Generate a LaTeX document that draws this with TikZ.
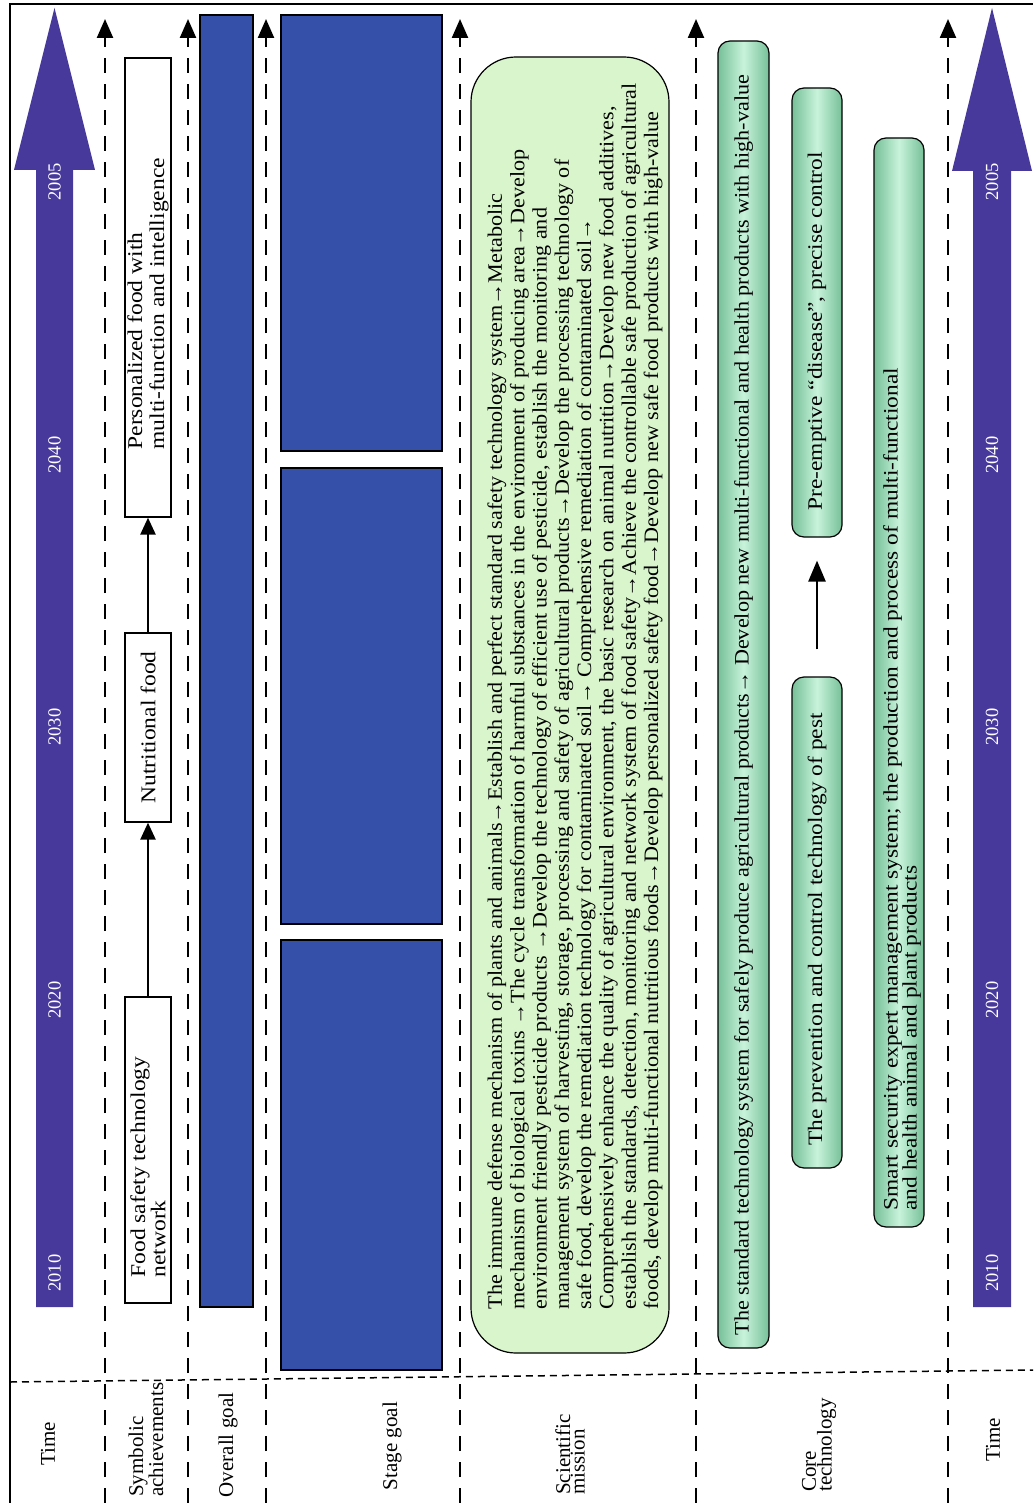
\documentclass[tikz,border=0pt]{standalone}
\usepackage{fontspec}
\setmainfont{Liberation Serif}
\newfontfamily\wideA[FakeStretch=1.08]{Liberation Serif}
\newfontfamily\wideB[FakeStretch=1.14]{Liberation Serif}
\newfontfamily\wideC[FakeStretch=1.12]{Liberation Serif}
\usetikzlibrary{arrows.meta}
\definecolor{tarrow}{RGB}{71,57,155}
\definecolor{goalblue}{RGB}{53,80,168}
\definecolor{missionfill}{RGB}{217,245,204}
\definecolor{cylEdge}{RGB}{118,192,152}
\definecolor{cylMid}{RGB}{200,243,219}
\begin{document}
\begin{tikzpicture}[x=1pt,y=-1pt,
  rtxt/.style={rotate=90, align=left, inner sep=0pt, font=\wideC\fontsize{21}{22}\selectfont},
  hdr/.style={rotate=90, align=left, inner sep=0pt, font=\fontsize{21}{14.5}\selectfont},
  yr/.style={rotate=90, inner sep=0pt, text=white, font=\fontsize{18.5}{20}\selectfont},
  sepline/.style={line width=2.4pt, dash pattern=on 15pt off 11pt, -{Triangle[length=19pt,width=16pt]}},
  hdash/.style={line width=1.5pt, dash pattern=on 7pt off 5pt},
  sbox/.style={draw=black, line width=1.3pt, fill=white, inner sep=0pt, minimum width=46pt},
  goal/.style={draw=black, line width=1.5pt, fill=goalblue, inner sep=0pt},
  mbox/.style={draw=black, line width=1.2pt, fill=missionfill, rounded corners=45pt, inner sep=0pt},
  cyl/.style={draw=black, line width=1.2pt, rounded corners=12pt, left color=cylEdge, right color=cylEdge, middle color=cylMid, inner sep=0pt},
  sarrow/.style={line width=2.5pt, -{Triangle[length=17pt,width=15pt]}},
  carrow/.style={line width=2.6pt, -{Triangle[length=21pt,width=17pt]}}
]
\useasboundingbox (0,0) rectangle (1033,1503);

% frame
\draw[line width=1.5pt] (10,1503) -- (10,4) -- (1033,4);

% header separator
\coordinate (hl) at (10,1382);
\coordinate (hr) at (1033,1370);
\draw[hdash] (hl) -- (hr);

% column separators
\foreach \i/\xx in {1/105,2/188,3/266,4/460,5/696,6/948}{
  \coordinate (sb\i) at (\xx,1503);
  \coordinate (st\i) at (\xx,19);
  \draw[sepline] (sb\i) -- (st\i);
}

% time arrows
\fill[tarrow] (36,1307) -- (36,170) -- (14,170) -- (54.5,8) -- (95,170) -- (73,170) -- (73,1307) -- cycle;
\fill[tarrow] (973,1307) -- (973,171) -- (952,171) -- (992,8) -- (1032,171) -- (1011,171) -- (1011,1307) -- cycle;
\foreach \n/\yy in {2005/182,2040/455,2030/727,2020/1000,2010/1273}{
  \node[yr] (yl\n) at (54.5,\yy) {\n};
  \node[yr] (yr\n) at (992,\yy) {\n};
}

% symbolic achievements
\node[sbox, minimum height=459pt] (pers) at (148,287.5) {};
\node[sbox, minimum height=189pt] (nutr) at (148,727.5) {};
\node[sbox, minimum height=306pt] (fsn) at (148,1150) {};
\node[rtxt, anchor=west] (perst) at ([yshift=68pt]pers.south) {Personalized food with\\multi-function and intelligence};
\node[rtxt] (nutrt) at (nutr.center) {Nutritional food};
\node[rtxt, anchor=west, font=\wideC\fontsize{21}{14.5}\selectfont] (fsnt) at ([yshift=26pt]fsn.south) {Food safety technology\\network};
\draw[sarrow] (fsn.north) -- (nutr.south);
\draw[sarrow] (nutr.north) -- (pers.south);

% overall goal
\node[goal, minimum width=53pt, minimum height=1292pt] (og) at (226.5,661) {};

% stage goals
\node[goal, minimum width=161pt, minimum height=436pt] (sg1) at (361.5,233) {};
\node[goal, minimum width=161pt, minimum height=456pt] (sg2) at (361.5,696) {};
\node[goal, minimum width=161pt, minimum height=430pt] (sg3) at (361.5,1155) {};

% scientific mission
\node[mbox, minimum width=198pt, minimum height=1296pt] (mis) at (570,705) {};
\node[rtxt, anchor=west, font=\wideA\fontsize{20.5}{22.3}\selectfont] (mist) at ([yshift=44pt,xshift=5pt]mis.south) {The immune defense mechanism of plants and animals→Establish and perfect standard safety technology system→Metabolic\\
mechanism of biological toxins →The cycle transformation of harmful substances in the environment of producing area→Develop\\
environment friendly pesticide products →Develop the technology of efficient use of pesticide, establish the monitoring and\\
management system of harvesting, storage, processing and safety of agricultural products→Develop the processing technology of\\
safe food, develop the remediation technology for contaminated soil→ Comprehensive remediation of contaminated soil→\\
Comprehensively enhance the quality of agricultural environment, the basic research on animal nutrition→Develop new food additives,\\
establish the standards, detection, monitoring and network system of food safety→Achieve the controllable safe production of agricultural\\
foods, develop multi-functional nutritious foods→Develop personalized safety food→Develop new safe food products with high-value};

% core technology
\node[cyl, minimum width=51pt, minimum height=1307pt] (ct1) at (743.5,694.5) {};
\node[cyl, minimum width=50pt, minimum height=449pt] (ct2a) at (817,312.5) {};
\node[cyl, minimum width=50pt, minimum height=491pt] (ct2b) at (817,922.5) {};
\node[cyl, minimum width=50pt, minimum height=1089pt] (ct3) at (899,682.5) {};
\node[rtxt, anchor=west, font=\wideA\fontsize{20.5}{22}\selectfont] (ct1t) at ([yshift=13pt]ct1.south) {The standard technology system for safely produce agricultural products→ Develop new multi-functional and health products with high-value};
\node[rtxt, anchor=west, font=\wideB\fontsize{20.5}{22}\selectfont] (ct2at) at ([yshift=27pt]ct2a.south) {Pre-emptive “disease”, precise control};
\node[rtxt, anchor=west, font=\wideB\fontsize{20.5}{22}\selectfont] (ct2bt) at ([yshift=23pt]ct2b.south) {The prevention and control technology of pest};
\node[rtxt, anchor=west, font=\wideB\fontsize{20.5}{19}\selectfont] (ct3t) at ([yshift=17pt,xshift=3pt]ct3.south) {Smart security expert management system; the production and process of multi-functional\\and health animal and plant products};
\draw[carrow, shorten <=27pt, shorten >=23pt] (ct2b.north) -- (ct2a.south);

% headers
\node[hdr] (h1) at (48,1444) {Time};
\node[hdr, anchor=west] (h2) at (146,1497) {Symbolic\\achievements};
\node[hdr] (h3) at (228,1445) {Overall goal};
\node[hdr] (h4) at (392,1446) {Stage goal};
\node[hdr, anchor=west] (h5) at (570,1495) {Scientific\\mission};
\node[hdr, anchor=west] (h6) at (819,1492) {Core\\technology};
\node[hdr] (h7) at (993,1440) {Time};
\end{tikzpicture}
\end{document}
